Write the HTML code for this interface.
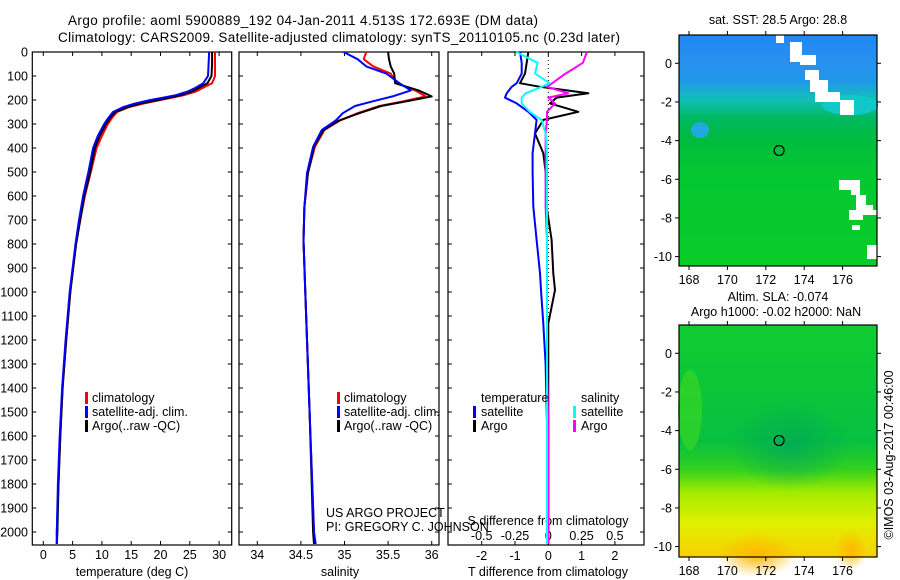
<!DOCTYPE html>
<html><head><meta charset="utf-8"><style>
html,body{margin:0;padding:0;background:#fff;}
svg{display:block;font-family:"Liberation Sans",sans-serif;}
</style></head><body>
<svg id="fig" width="900" height="580" viewBox="0 0 900 580">
<defs>
<linearGradient id="sstGrad" x1="0" y1="0" x2="0" y2="1">
<stop offset="0" stop-color="#1e88f5"/><stop offset="0.12" stop-color="#2a90ef"/>
<stop offset="0.2" stop-color="#2098e8"/><stop offset="0.28" stop-color="#10c0b8"/>
<stop offset="0.36" stop-color="#00b860"/><stop offset="0.45" stop-color="#00bb40"/>
<stop offset="0.6" stop-color="#04c830"/><stop offset="1" stop-color="#08cc28"/>
</linearGradient>
<linearGradient id="slaGrad" x1="0" y1="0" x2="0" y2="1">
<stop offset="0" stop-color="#10cc30"/><stop offset="0.5" stop-color="#08c040"/>
<stop offset="0.62" stop-color="#30d020"/><stop offset="0.72" stop-color="#a0ec00"/>
<stop offset="0.85" stop-color="#e0f000"/><stop offset="1" stop-color="#f8d000"/>
</linearGradient>
<radialGradient id="orangeBlob"><stop offset="0" stop-color="#ffb800"/><stop offset="1" stop-color="#ffb800" stop-opacity="0"/></radialGradient>
<radialGradient id="tealBlob"><stop offset="0" stop-color="#00a858" stop-opacity="0.8"/><stop offset="1" stop-color="#00a858" stop-opacity="0"/></radialGradient>
</defs>
<g id="titles" font-size="13.5">
<text x="303" y="25" text-anchor="middle" textLength="470">Argo profile: aoml 5900889_192 04-Jan-2011 4.513S 172.693E (DM data)</text>
<text x="339" y="42" text-anchor="middle" textLength="562">Climatology: CARS2009. Satellite-adjusted climatology: synTS_20110105.nc (0.23d later)</text>
</g>
<g id="panels"></g>
<g id="maps"></g>
</svg>
<script>
const depthT = [0,50,100,130,150,165,180,190,200,215,230,250,275,300,350,400,500,600,700,800,900,1000,1200,1400,1600,1800,2000,2050];
const argoT = [28.8,28.8,28.7,28.0,26.5,25.4,23.5,21.5,19.5,16.5,14.3,12.3,11.4,10.7,9.6,8.8,8.0,7.0,6.3,5.6,5.1,4.6,3.9,3.3,2.9,2.6,2.4,2.3];
const climT = [29.3,29.3,29.3,28.8,27.2,26.0,24.0,22.0,20.0,17.0,14.6,12.6,11.7,11.0,10.0,9.1,8.1,7.1,6.3,5.6,5.1,4.6,3.9,3.3,2.9,2.6,2.3,2.3];
const satT = [28.3,28.2,28.1,27.3,25.9,24.6,22.6,20.5,18.3,15.6,13.6,11.9,11.1,10.4,9.3,8.5,7.7,6.8,6.1,5.5,5.0,4.5,3.8,3.2,2.8,2.5,2.3,2.3];
const depthS = [0,30,60,90,130,160,185,205,225,255,285,325,395,505,645,785,1000,1500,2000,2050];
const argoS = [35.50,35.51,35.53,35.57,35.58,35.85,36.0,35.72,35.42,35.17,34.94,34.76,34.65,34.58,34.54,34.53,34.55,34.60,34.64,34.65];
const climS = [35.25,35.22,35.33,35.53,35.6,35.81,35.93,35.68,35.40,35.15,34.95,34.77,34.66,34.58,34.54,34.53,34.55,34.60,34.65,34.65];
const satS = [34.99,35.15,35.25,35.48,35.63,35.76,35.55,35.33,35.12,34.98,34.90,34.74,34.64,34.57,34.54,34.53,34.55,34.60,34.65,34.67];
const depthD = [0,45,90,130,145,172,190,214,249,283,339,422,500,644,783,922,992,1131,1300,1600,2000,2050];
const argoTd = [-0.6,-0.65,-0.7,-0.85,-0.25,1.2,0.25,0.05,0.9,-0.15,-0.4,-0.15,-0.08,-0.05,0.1,0.15,0.2,0,0,0,0,0];
const satTd = [-0.85,-0.8,-0.8,-0.95,-1.1,-1.25,-1.3,-0.95,-0.6,-0.35,-0.4,-0.47,-0.47,-0.45,-0.35,-0.25,-0.22,-0.15,-0.08,-0.03,-0.02,-0.02];
const satSd = [-0.24,-0.08,-0.1,0.01,-0.05,-0.17,-0.2,-0.2,-0.14,-0.05,-0.02,-0.01,-0.01,-0.01,-0.01,-0.01,-0.01,-0.01,-0.01,-0.01,-0.01,-0.01];
const argoSd = [0.29,0.26,0.13,0.03,-0.01,0.15,0.0,0.05,-0.01,-0.01,-0.02,-0.02,-0.02,-0.02,-0.01,-0.01,-0.01,-0.01,-0.01,0,0,0];
const depthTicks = [0,100,200,300,400,500,600,700,800,900,1000,1100,1200,1300,1400,1500,1600,1700,1800,1900,2000];
const tempTicks = [0,5,10,15,20,25,30];
const salTicks = [34,34.5,35,35.5,36];
const tdTicks = [-2,-1,0,1,2];
const sdTicks = [-0.5,-0.25,0,0.25,0.5];
const sdTickLabels = ['-0.5','-0.25','0','0.25','0.5'];
const lonTicks = [168,170,172,174,176];
const latTicks = [0,-2,-4,-6,-8,-10];

const NS='http://www.w3.org/2000/svg';
const P=document.getElementById('panels');
const M=document.getElementById('maps');
function mk(tag,at,parent){const e=document.createElementNS(NS,tag);for(const k in at)e.setAttribute(k,at[k]);(parent||P).appendChild(e);return e;}
const yD=d=>52+d*0.24;
const TOP=52,BOT=545;
const xT=v=>43.3+v*5.86;
const xS=v=>257.3+(v-34)*87.2;
const xTd=v=>548.3+v*33.3;
const xSd=v=>548.3+v*133.2;

function frame(x0,x1,name){
  const r=mk('rect',{x:x0,y:TOP,width:x1-x0,height:BOT-TOP,fill:'none',stroke:'#000','stroke-width':1.2});
  
  
  depthTicks.forEach(d=>{mk('line',{x1:x0,x2:x0+4,y1:yD(d),y2:yD(d),stroke:'#000'});mk('line',{x1:x1-4,x2:x1,y1:yD(d),y2:yD(d),stroke:'#000'});});
}
function xticks(vals,fx,labels,y,name){
  vals.forEach((v,i)=>{const x=fx(v);
    mk('line',{x1:x,x2:x,y1:BOT,y2:BOT-4,stroke:'#000'});mk('line',{x1:x,x2:x,y1:TOP,y2:TOP+4,stroke:'#000'});
    const t=mk('text',{x:x,y:y,'text-anchor':'middle','font-size':12.5});t.textContent=labels?labels[i]:String(v);
    
    
  });
}
function line(ds,vs,fx,col,name,w){
  const pts=ds.map((d,i)=>fx(vs[i]).toFixed(1)+','+yD(d).toFixed(1)).join(' ');
  const l=mk('polyline',{points:pts,fill:'none',stroke:col,'stroke-width':w||2,'stroke-linejoin':'round'});
  
  
}
function label(x,y,s,name,anchor,size){const t=mk('text',{x:x,y:y,'text-anchor':anchor||'start','font-size':size||12.5});t.textContent=s;
  
  return t;}
function legBar(x,y,col){mk('rect',{x:x,y:y-10,width:3,height:12,fill:col});}

depthTicks.forEach(d=>{const t=mk('text',{x:28,y:yD(d)+4.5,'text-anchor':'end','font-size':12.5});t.textContent=String(d);
  
  });

// Panel 1
frame(32.3,231.7,'temperature-panel');
xticks(tempTicks,xT,null,559,'temperature');
label(132,576,'temperature (deg C)','temperature-axis-title','middle');
line(depthT,climT,xT,'#ff0000','climatology-temperature-line');
line(depthT,argoT,xT,'#000000','argo-temperature-line');
line(depthT,satT,xT,'#0000ff','satellite-temperature-line');
legBar(85,402,'#f00');label(92,402,'climatology','legend-climatology');
legBar(85,416,'#00f');label(92,416,'satellite-adj. clim.','legend-satellite');
legBar(85,430,'#000');label(92,430,'Argo(..raw -QC)','legend-argo');

// Panel 2
frame(239,439,'salinity-panel');
xticks(salTicks,xS,null,559,'salinity');
label(340,576,'salinity','salinity-axis-title','middle');
line(depthS,climS,xS,'#ff0000','climatology-salinity-line');
line(depthS,argoS,xS,'#000000','argo-salinity-line');
line(depthS,satS,xS,'#0000ff','satellite-salinity-line');
legBar(337,402,'#f00');label(344,402,'climatology','legend-climatology-2');
legBar(337,416,'#00f');label(344,416,'satellite-adj. clim.','legend-satellite-2');
legBar(337,430,'#000');label(344,430,'Argo(..raw -QC)','legend-argo-2');
label(326,517,'US ARGO PROJECT','project-credit');
label(326,531,'PI: GREGORY C. JOHNSON','pi-credit');

// Panel 3
frame(448,644,'difference-panel');
mk('line',{x1:xTd(0),x2:xTd(0),y1:TOP,y2:BOT,stroke:'#000','stroke-dasharray':'1,3'});
tdTicks.forEach(v=>{const x=xTd(v);mk('line',{x1:x,x2:x,y1:BOT,y2:BOT-4,stroke:'#000'});mk('line',{x1:x,x2:x,y1:TOP,y2:TOP+4,stroke:'#000'});
  const t=mk('text',{x:x,y:560,'text-anchor':'middle','font-size':12.5});t.textContent=String(v);
  
  });
sdTicks.forEach((v,i)=>{const t=mk('text',{x:xSd(v),y:540,'text-anchor':'middle','font-size':12.5});t.textContent=sdTickLabels[i];
  
  });
label(548,525,'S difference from climatology','s-diff-axis-title','middle');
label(548,576,'T difference from climatology','t-diff-axis-title','middle');
line(depthD,argoTd,xTd,'#000000','argo-t-diff-line');
line(depthD,satTd,xTd,'#0000ff','satellite-t-diff-line');
line(depthD,argoSd,xSd,'#ff00ff','argo-s-diff-line');
line(depthD,satSd,xSd,'#00ffff','satellite-s-diff-line');
label(481,402,'temperature','legend-temperature-header');
label(581,402,'salinity','legend-salinity-header');
legBar(473,416,'#00f');label(481,416,'satellite','legend-t-satellite');
legBar(473,430,'#000');label(481,430,'Argo','legend-t-argo');
legBar(573,416,'#0ff');label(581,416,'satellite','legend-s-satellite');
legBar(573,430,'#f0f');label(581,430,'Argo','legend-s-argo');

// Maps
const xLon=v=>689+(v-168)*19.2;
function mapAxes(y0,y1,lat0){
  const yLat=v=>lat0+(-v)*19.33;
  mk('rect',{x:679,y:y0,width:198,height:y1-y0,fill:'none',stroke:'#000','stroke-width':1.2},M);
  lonTicks.forEach(v=>{const x=xLon(v);mk('line',{x1:x,x2:x,y1:y1,y2:y1+4,stroke:'#000'},M);mk('line',{x1:x,x2:x,y1:y0,y2:y0-4,stroke:'#000'},M);
    const t=mk('text',{x:x,y:y1+18,'text-anchor':'middle','font-size':12.5},M);t.textContent=String(v);
    
    });
  latTicks.forEach(v=>{const y=yLat(v);mk('line',{x1:675,x2:679,y1:y,y2:y,stroke:'#000'},M);mk('line',{x1:877,x2:881,y1:y,y2:y,stroke:'#000'},M);
    const t=mk('text',{x:672,y:y+4.5,'text-anchor':'end','font-size':12.5},M);t.textContent=String(v);
    
    });
  mk('circle',{cx:xLon(172.693),cy:yLat(-4.513),r:5,fill:'none',stroke:'#000','stroke-width':1.2},M);
  return yLat;
}
let r=mk('rect',{x:679,y:35,width:198,height:231,fill:'url(#sstGrad)'},M);


mk('ellipse',{cx:700,cy:130,rx:9,ry:8,fill:'#20a8e0'},M);
mk('ellipse',{cx:850,cy:105,rx:28,ry:10,fill:'#10c8c8'},M);
const wp='#fff';
[[776,35,8,8],[790,42,12,20],[800,55,16,10],[805,70,14,10],[810,80,18,12],[815,92,25,10],[840,100,14,15],[849,210,14,10],[863,205,10,8],[852,225,8,5],[867,245,10,14]].forEach(a=>mk('rect',{x:a[0],y:a[1],width:a[2],height:a[3],fill:wp},M));
mk('polygon',{points:'839,180 860,180 860,195 866,195 866,210 877,210 877,215 856,215 856,195 851,195 851,190 839,190',fill:wp},M);
mapAxes(35,266,63.3);
label(778,24,'sat. SST: 28.5 Argo: 28.8','sst-map-title','middle');
r=mk('rect',{x:679,y:325,width:198,height:232,fill:'url(#slaGrad)'},M);


mk('ellipse',{cx:790,cy:445,rx:60,ry:45,fill:'url(#tealBlob)'},M);
mk('ellipse',{cx:690,cy:410,rx:12,ry:40,fill:'#40d820',opacity:0.6},M);
mk('ellipse',{cx:757,cy:555,rx:40,ry:22,fill:'url(#orangeBlob)'},M);
mk('ellipse',{cx:851,cy:550,rx:16,ry:20,fill:'url(#orangeBlob)'},M);
mapAxes(325,557,353.3);
label(778,301,'Altim. SLA: -0.074','sla-map-title','middle');
label(776,316,'Argo h1000: -0.02 h2000: NaN','sla-map-subtitle','middle');
const c=label(0,0,'©IMOS 03-Aug-2017 00:46:00','imos-credit','middle');
c.setAttribute('transform','translate(893,455) rotate(-90)');
</script>
</body></html>
